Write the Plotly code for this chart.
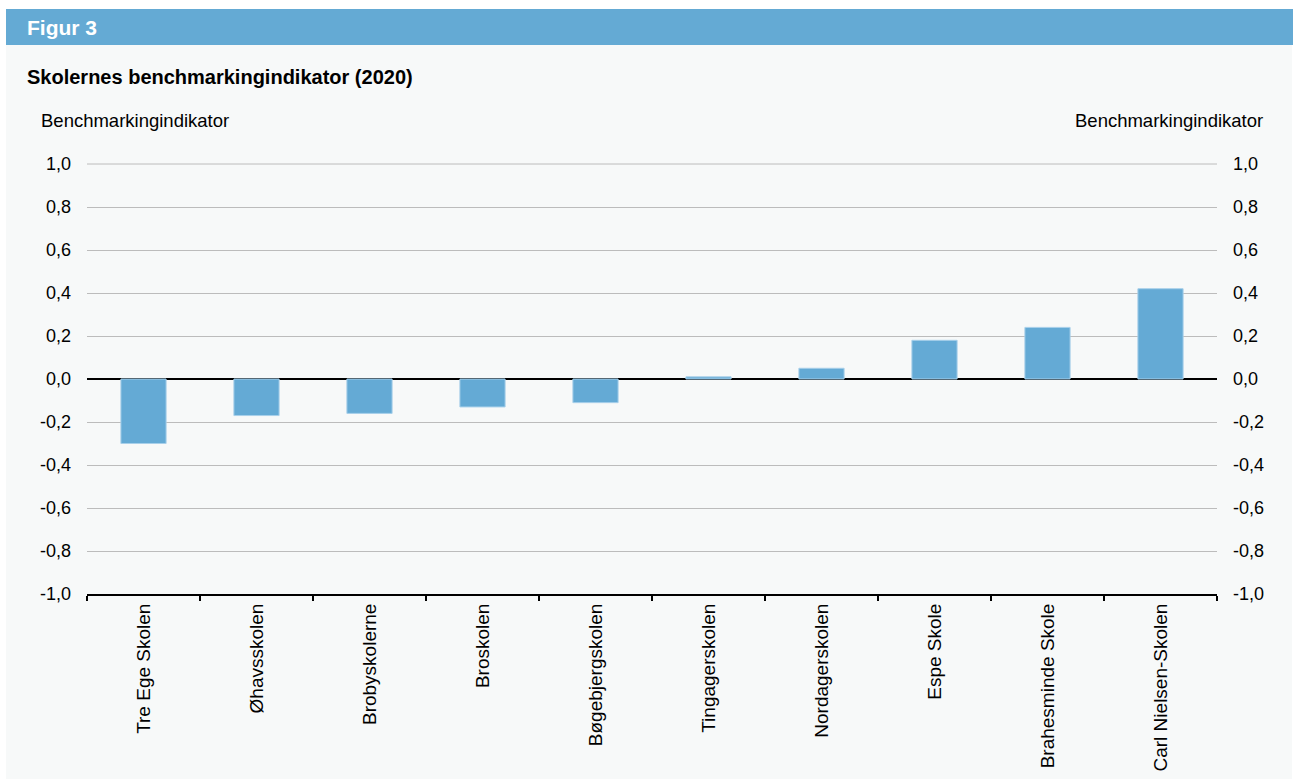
import plotly.graph_objects as go

categories = ["Tre Ege Skolen", "Øhavsskolen", "Brobyskolerne", "Broskolen",
              "Bøgebjergskolen", "Tingagerskolen", "Nordagerskolen", "Espe Skole",
              "Brahesminde Skole", "Carl Nielsen-Skolen"]
values = [-0.30, -0.17, -0.16, -0.13, -0.11, 0.01, 0.05, 0.18, 0.24, 0.42]
y_tickvals = [-1.0, -0.8, -0.6, -0.4, -0.2, 0.0, 0.2, 0.4, 0.6, 0.8, 1.0]
y_ticktext = ["-1,0", "-0,8", "-0,6", "-0,4", "-0,2", "0,0", "0,2", "0,4", "0,6", "0,8", "1,0"]

W, H = 1293, 779
L, R, T, B = 87, 1217, 164, 594

def px(x):
    return (x - L) / (R - L)

def py(y):
    return (B - y) / (B - T)

FONT = "Liberation Sans, Arial, sans-serif"
BAR = "#64aad5"
GRID = "#bcbcbc"

fig = go.Figure()
fig.add_trace(go.Bar(x=categories, y=values, width=0.4,
                     marker=dict(color=BAR, line=dict(color="#a8d0ea", width=1)),
                     showlegend=False, hoverinfo="x+y"))
fig.add_trace(go.Scatter(x=categories, y=values, yaxis="y2", mode="markers",
                         marker=dict(opacity=0, size=1), showlegend=False, hoverinfo="skip"))

shapes = [
    dict(type="rect", xref="paper", yref="paper", x0=px(6), x1=px(1292), y0=py(779), y1=py(9),
         fillcolor="#f7f9f9", line=dict(width=0), layer="below"),
    dict(type="rect", xref="paper", yref="paper", x0=px(6), x1=px(1293), y0=py(45), y1=py(9),
         fillcolor="#64aad4", line=dict(width=0), layer="below"),
    dict(type="line", xref="paper", yref="paper", x0=0, x1=1, y0=1, y1=1,
         line=dict(color=GRID, width=1), layer="below"),
]

annotations = [
    dict(text="<b>Figur 3</b>", xref="paper", yref="paper", x=px(25), y=py(27),
         xanchor="left", yanchor="middle", showarrow=False,
         font=dict(family=FONT, size=21, color="white")),
    dict(text="<b>Skolernes benchmarkingindikator (2020)</b>", xref="paper", yref="paper",
         x=px(25), y=py(77), xanchor="left", yanchor="middle", showarrow=False,
         font=dict(family=FONT, size=20, color="black")),
    dict(text="Benchmarkingindikator", xref="paper", yref="paper", x=px(39), y=py(120),
         xanchor="left", yanchor="middle", showarrow=False,
         font=dict(family=FONT, size=18.5, color="black")),
    dict(text="Benchmarkingindikator", xref="paper", yref="paper", x=px(1265), y=py(120),
         xanchor="right", yanchor="middle", showarrow=False,
         font=dict(family=FONT, size=18.5, color="black")),
]

fig.update_layout(
    width=W, height=H,
    margin=dict(l=L, r=W - R, t=T, b=H - B, pad=0),
    paper_bgcolor="white", plot_bgcolor="#f7f9f9",
    font=dict(family=FONT, size=18, color="black"),
    shapes=shapes, annotations=annotations,
    bargap=0.6,
    xaxis=dict(type="category", range=[-0.5, len(categories) - 0.5], tickangle=-90,
               showline=True, linecolor="black", linewidth=2,
               ticks="outside", tickson="boundaries", ticklen=5, tickwidth=2, tickcolor="black",
               showgrid=False, automargin=False, tickfont=dict(size=19)),
    yaxis=dict(range=[-1, 1], tickvals=y_tickvals, ticktext=y_ticktext, showgrid=True,
               gridcolor=GRID, gridwidth=1, zeroline=True, zerolinecolor="black",
               zerolinewidth=2, showline=False, ticks="", ticklabelstandoff=15,
               automargin=False, tickfont=dict(size=18)),
    yaxis2=dict(range=[-1, 1], tickvals=y_tickvals, ticktext=y_ticktext, overlaying="y",
                side="right", showgrid=False, zeroline=False, showline=False, ticks="",
                ticklabelstandoff=15, automargin=False, tickfont=dict(size=18)),
)

fig.write_html("out.html", config={"displayModeBar": False},
               post_script="document.body.style.margin='0';document.body.style.padding='0';document.body.style.overflow='hidden';")
